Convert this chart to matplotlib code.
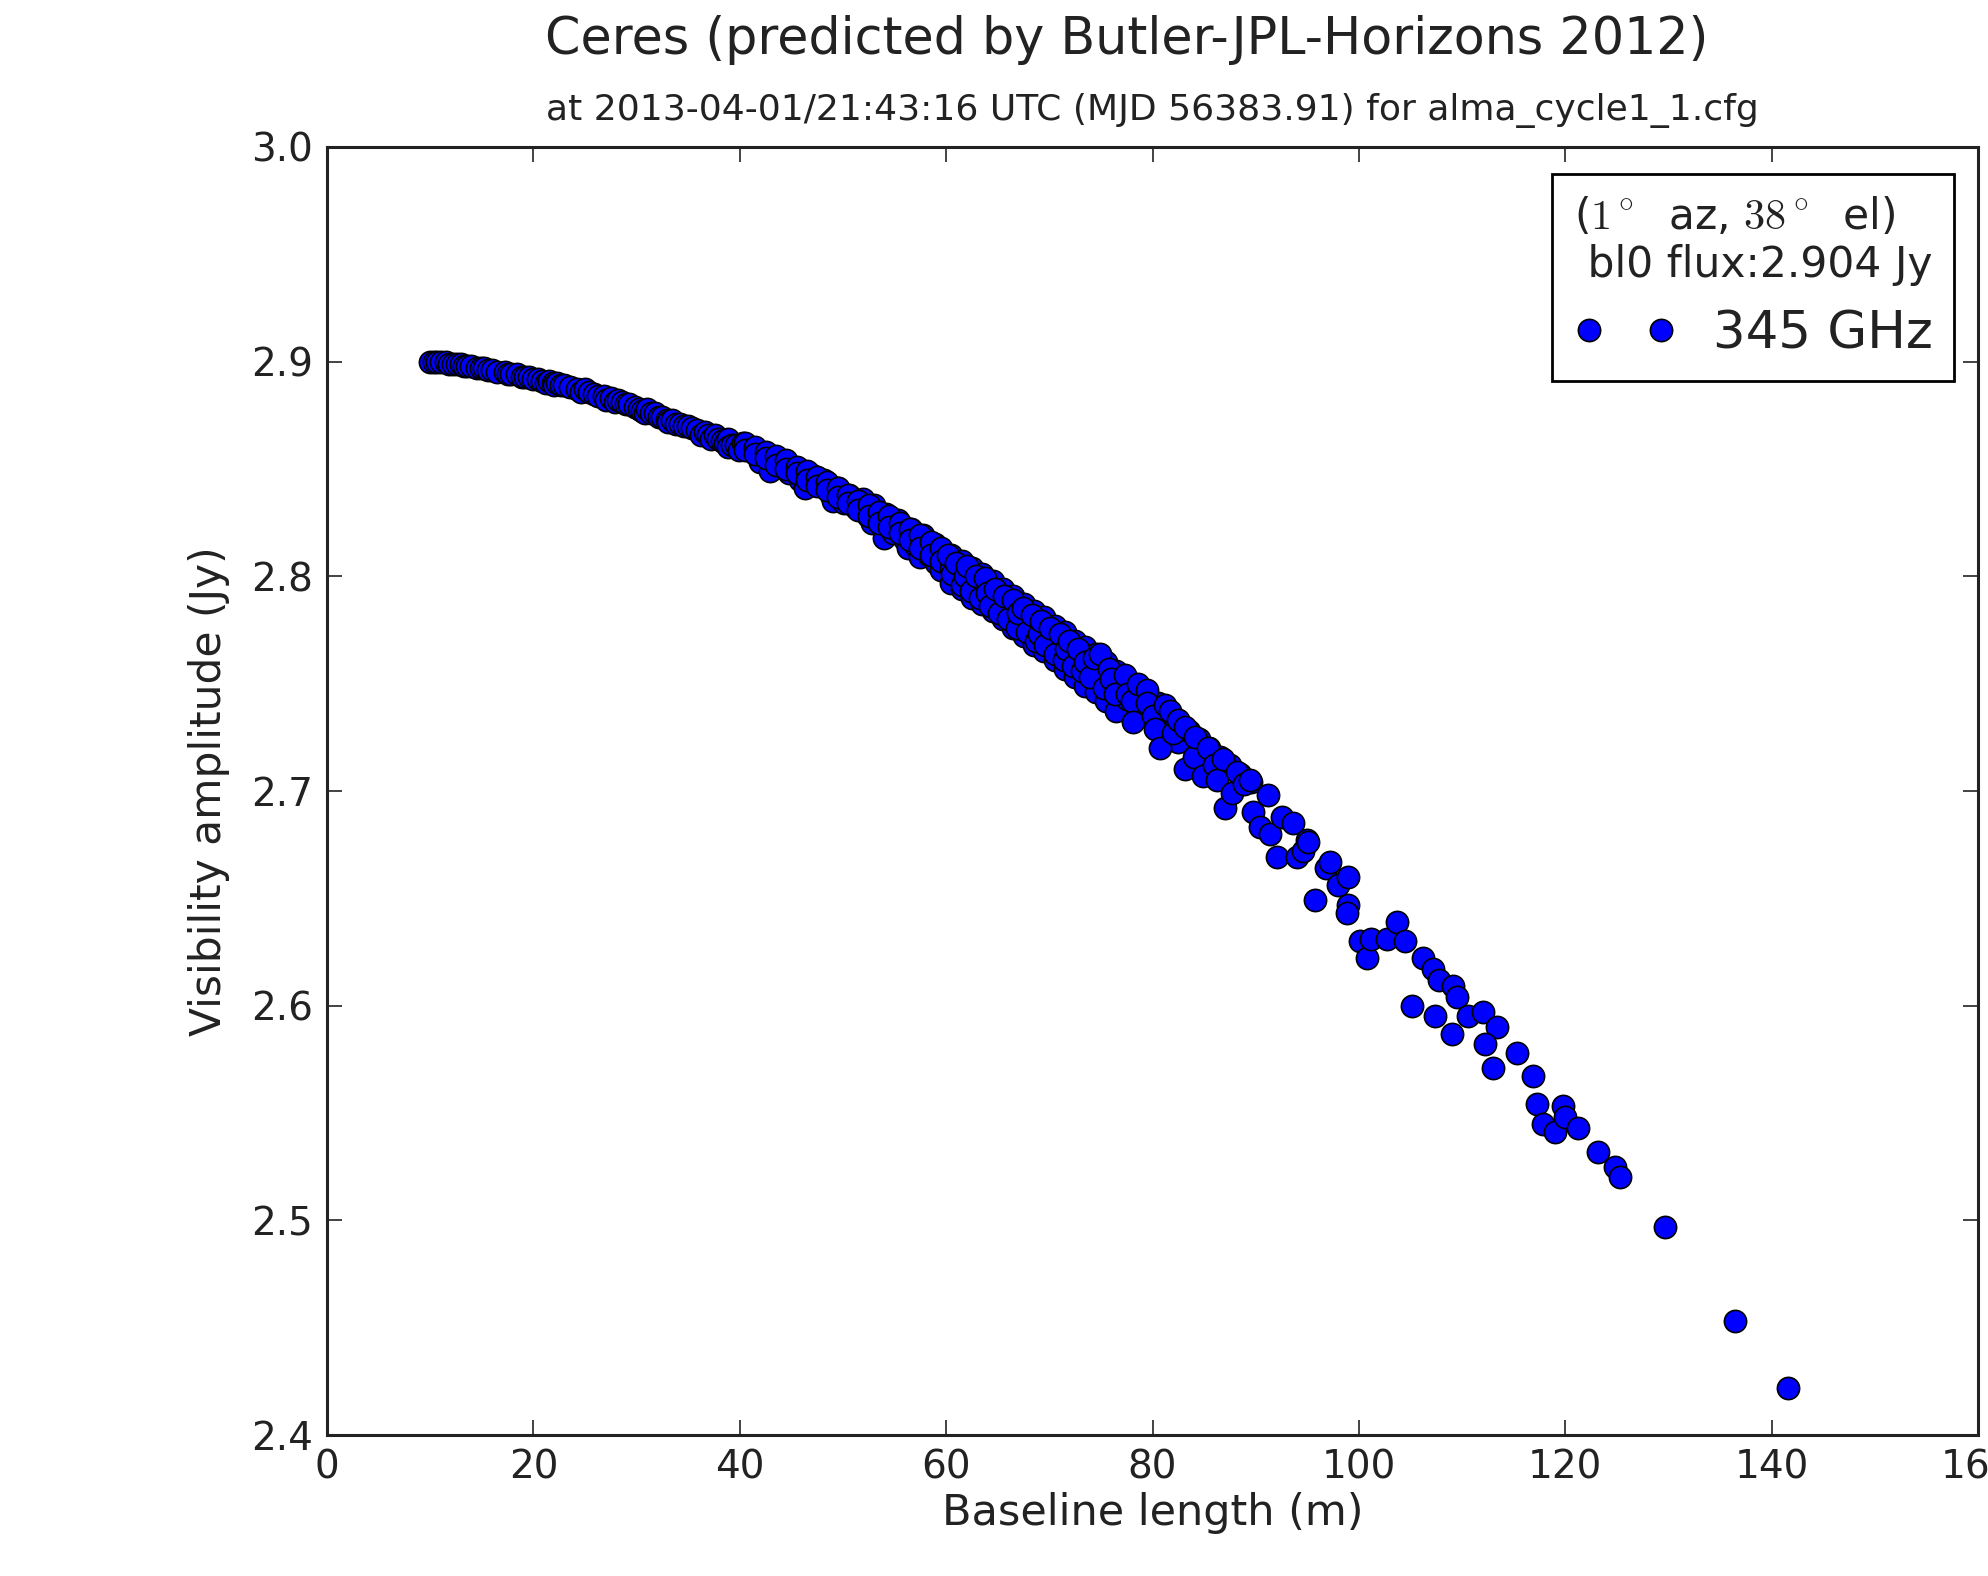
import matplotlib
matplotlib.use('Agg')
import matplotlib.pyplot as plt
import numpy as np

# ── Data (baseline length in m, amplitude in Jy) ───────────────────────
short_bl = [10.0, 10.4, 10.7, 11.0, 11.5, 11.8, 12.2, 12.6, 13.0, 13.3, 13.6, 14.0,
            14.5, 14.9, 15.2, 15.6, 16.0, 16.5, 17.2, 17.5, 17.8, 18.4, 18.9, 19.2,
            19.6, 20.0, 20.4, 20.8, 21.2, 21.5, 21.9, 22.0, 22.3, 22.7, 23.0, 23.5,
            24.2, 24.6, 25.0, 25.4, 25.9, 26.3, 26.8, 27.0, 27.5, 27.9, 28.2, 28.6,
            29.0, 29.3, 29.8, 30.2, 30.5, 30.8, 31.0, 31.4, 31.8, 32.2, 32.5, 32.9,
            33.0, 33.4, 33.8, 34.2, 34.6, 35.0, 35.4, 35.9, 36.2, 36.6, 36.9, 37.2,
            37.6, 37.9, 38.3, 38.6, 38.9, 38.9, 39.2, 39.6, 39.9]
short_amp = [2.900, 2.900, 2.900, 2.900, 2.900, 2.899, 2.899, 2.899, 2.899, 2.898, 2.898, 2.898,
             2.897, 2.897, 2.897, 2.896, 2.896, 2.895, 2.895, 2.894, 2.894, 2.894, 2.893, 2.893,
             2.893, 2.892, 2.892, 2.891, 2.890, 2.891, 2.890, 2.889, 2.890, 2.889, 2.889, 2.888,
             2.887, 2.886, 2.887, 2.886, 2.885, 2.884, 2.884, 2.882, 2.883, 2.881, 2.882, 2.881,
             2.880, 2.880, 2.879, 2.878, 2.877, 2.876, 2.878, 2.876, 2.876, 2.874, 2.874, 2.873,
             2.872, 2.873, 2.871, 2.871, 2.870, 2.870, 2.869, 2.868, 2.866, 2.867, 2.866, 2.864,
             2.866, 2.864, 2.863, 2.862, 2.864, 2.860, 2.861, 2.861, 2.859]

mid_bl = [40.3, 41.0, 41.8, 42.0, 42.9, 43.7, 44.3, 44.8, 45.2, 45.8, 46.3, 47.0,
          47.6, 48.2, 48.8, 49.0, 49.5, 50.1, 50.6, 51.3, 51.9, 52.4, 52.8, 53.0,
          53.7, 54.0, 54.2, 54.8, 55.3, 56.0, 56.3, 56.6, 57.1, 57.5, 57.8, 58.3,
          58.9, 59.0, 59.5]
mid_amp = [2.862, 2.860, 2.857, 2.853, 2.849, 2.854, 2.851, 2.848, 2.851, 2.845, 2.841, 2.847,
           2.843, 2.845, 2.838, 2.835, 2.841, 2.834, 2.838, 2.832, 2.836, 2.828, 2.825, 2.833,
           2.826, 2.818, 2.829, 2.820, 2.826, 2.817, 2.813, 2.822, 2.814, 2.809, 2.819, 2.810,
           2.815, 2.806, 2.803]

# filler points that make the dense ribbon between 40 and 90 m
band_bl = [40.5, 40.5, 41.5, 41.5, 42.5, 42.5, 43.5, 43.5, 44.5, 44.5, 45.5, 45.5,
           46.5, 46.5, 47.5, 47.5, 48.5, 48.5, 49.5, 49.5, 50.5, 50.5, 51.5, 51.5,
           52.5, 52.5, 53.5, 53.5, 54.5, 54.5, 55.5, 55.5, 56.5, 56.5, 57.5, 57.5,
           58.5, 58.5, 59.5, 59.5, 60.5, 60.5, 60.5, 61.5, 61.5, 61.5, 62.5, 62.5,
           62.5, 63.5, 63.5, 63.5, 64.5, 64.5, 64.5, 65.5, 65.5, 65.5, 66.5, 66.5,
           66.5, 67.5, 67.5, 67.5, 68.5, 68.5, 68.5, 69.5, 69.5, 69.5, 70.5, 70.5,
           70.5, 71.5, 71.5, 71.5, 72.5, 72.5, 72.5, 73.5, 73.5, 73.5, 74.5, 74.5,
           74.5, 75.5, 75.5, 75.5, 76.5, 76.5, 76.5, 77.5, 77.5, 78.5, 78.5, 79.5,
           79.5, 80.5, 80.5, 81.5, 81.5, 82.5, 82.5, 83.5, 84.5, 85.5, 86.5, 87.5,
           88.5, 89.5]
band_amp = [2.862, 2.859, 2.860, 2.857, 2.858, 2.855, 2.856, 2.852, 2.854, 2.850, 2.851, 2.848,
            2.849, 2.845, 2.846, 2.842, 2.844, 2.840, 2.841, 2.837, 2.838, 2.834, 2.835, 2.831,
            2.833, 2.828, 2.830, 2.825, 2.828, 2.823, 2.825, 2.820, 2.822, 2.817, 2.819, 2.813,
            2.816, 2.810, 2.813, 2.807, 2.810, 2.804, 2.797, 2.807, 2.800, 2.794, 2.804, 2.797,
            2.790, 2.801, 2.794, 2.787, 2.798, 2.791, 2.784, 2.794, 2.787, 2.780, 2.791, 2.783,
            2.776, 2.787, 2.780, 2.772, 2.784, 2.776, 2.768, 2.781, 2.773, 2.765, 2.777, 2.769,
            2.761, 2.774, 2.765, 2.757, 2.770, 2.762, 2.753, 2.767, 2.758, 2.749, 2.764, 2.755,
            2.746, 2.760, 2.751, 2.742, 2.756, 2.747, 2.737, 2.752, 2.743, 2.749, 2.739, 2.745,
            2.735, 2.741, 2.731, 2.737, 2.727, 2.733, 2.723, 2.728, 2.724, 2.720, 2.716, 2.712,
            2.708, 2.704]

long_bl = [60.2, 60.6, 61.0, 61.5, 61.8, 62.0, 62.4, 62.9, 63.3, 63.8, 64.0, 64.2,
           64.7, 65.1, 65.6, 66.0, 66.5, 66.9, 67.0, 67.4, 67.8, 68.3, 68.7, 69.0,
           69.2, 69.6, 70.1, 70.5, 71.0, 71.4, 71.6, 71.9, 72.3, 72.8, 73.2, 73.5,
           73.9, 74.3, 74.9, 75.3, 75.8, 76.0, 76.4, 77.3, 77.5, 78.0, 78.1, 78.6,
           79.5, 79.5, 80.0, 80.2, 80.7, 81.2, 81.7, 82.0, 82.5, 83.1, 83.1, 84.0,
           84.1, 84.9, 85.4, 86.0, 86.2, 86.8, 87.0, 87.7, 88.2, 88.9, 89.4, 89.7,
           90.4, 91.2, 91.4, 92.5, 93.6]
long_amp = [2.810, 2.801, 2.806, 2.796, 2.800, 2.805, 2.793, 2.800, 2.790, 2.799, 2.792, 2.786,
            2.794, 2.783, 2.791, 2.780, 2.789, 2.776, 2.783, 2.785, 2.774, 2.782, 2.770, 2.773,
            2.779, 2.768, 2.776, 2.764, 2.773, 2.761, 2.766, 2.770, 2.758, 2.766, 2.756, 2.760,
            2.753, 2.762, 2.764, 2.748, 2.757, 2.752, 2.745, 2.754, 2.745, 2.742, 2.732, 2.750,
            2.747, 2.741, 2.735, 2.729, 2.720, 2.740, 2.737, 2.727, 2.733, 2.730, 2.710, 2.716,
            2.725, 2.707, 2.720, 2.712, 2.705, 2.715, 2.692, 2.699, 2.709, 2.703, 2.705, 2.690,
            2.683, 2.698, 2.680, 2.688, 2.685]

outer_bl = [92.1, 94.0, 94.6, 95.0, 95.1, 95.7, 96.8, 97.2, 98.0, 98.9, 98.9, 98.8,
            100.1, 100.8, 101.2, 102.7, 103.7, 104.5, 105.1, 106.2, 107.2, 107.8, 109.1, 109.5,
            107.4, 109.0, 110.6, 112.0, 113.4, 112.2, 113.0, 115.3, 116.9, 117.3, 117.8, 119.0,
            119.8, 120.0, 121.2, 123.2, 124.8, 125.3, 129.7, 136.4, 141.6]
outer_amp = [2.669, 2.669, 2.672, 2.677, 2.676, 2.649, 2.664, 2.667, 2.656, 2.660, 2.647, 2.643,
             2.630, 2.622, 2.631, 2.631, 2.639, 2.630, 2.600, 2.622, 2.617, 2.612, 2.609, 2.604,
             2.595, 2.587, 2.595, 2.597, 2.590, 2.582, 2.571, 2.578, 2.567, 2.554, 2.545, 2.541,
             2.553, 2.548, 2.543, 2.532, 2.525, 2.520, 2.497, 2.453, 2.422]

baseline = np.array(short_bl + mid_bl + band_bl + long_bl + outer_bl)
amplitude = np.array(short_amp + mid_amp + band_amp + long_amp + outer_amp)

title = 'Ceres (predicted by Butler-JPL-Horizons 2012)'
subtitle = 'at 2013-04-01/21:43:16 UTC (MJD 56383.91) for alma_cycle1_1.cfg'
legend_title = '($1^\\circ$  az, $38^\\circ$  el)\n bl0 flux:2.904 Jy'
series_label = '345 GHz'

# ── Style ───────────────────────────────────────────────────────────────
plt.rcParams['mathtext.fontset'] = 'cm'
plt.rcParams['font.family'] = 'DejaVu Sans'

fig = plt.figure(figsize=(19.88, 15.76), dpi=100)
ax = fig.add_axes([0.1645, 0.0895, 0.8305, 0.8173])

ax.plot(baseline, amplitude, 'o', color='blue', mec='black', mew=1.2,
        ms=16, label=series_label)

ax.set_xlim(0, 160)
ax.set_ylim(2.4, 3.0)
ax.set_xticks(np.arange(0, 161, 20))
ax.set_yticks(np.arange(2.4, 3.01, 0.1))
ax.set_yticklabels(['%.1f' % v for v in np.arange(2.4, 3.01, 0.1)])

ax.tick_params(direction='in', top=True, right=True, length=11, width=1.2,
               labelsize=28, colors='#222222', pad=10)
for s in ax.spines.values():
    s.set_linewidth(2.2)
    s.set_color('#222222')

ax.set_xlabel('Baseline length (m)', fontsize=31, color='#222222', labelpad=4)
ax.set_ylabel('Visibility amplitude (Jy)', fontsize=30.5, color='#222222', labelpad=15)

ax.set_title(subtitle, fontsize=26, color='#222222', pad=19)
fig.text(0.5665, 0.9745, title, fontsize=36.5, color='#222222', ha='center', va='center')

leg = ax.legend(loc='upper right', bbox_to_anchor=(0.9855, 0.979), borderaxespad=0,
                numpoints=2, fontsize=37, title=legend_title, title_fontsize=30.5,
                fancybox=False, framealpha=1, edgecolor='black', alignment='left',
                handlelength=2.0, handletextpad=0.7, borderpad=0.42, labelspacing=0.45)
leg.get_frame().set_linewidth(2.0)
leg.get_title().set_color('#222222')
for t in leg.get_texts():
    t.set_color('#222222')

plt.savefig('out.png', dpi=100)
